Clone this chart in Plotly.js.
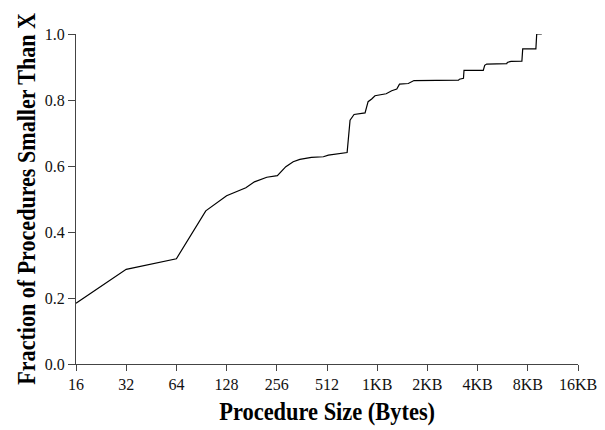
<!DOCTYPE html>
<html>
<head>
<meta charset="utf-8">
<script src="https://cdn.plot.ly/plotly-3.0.1.min.js"></script>
<style>
html,body{margin:0;padding:0;background:#fff;}
#chart{width:605px;height:430px;}
</style>
</head>
<body>
<div id="chart"></div>
<script>
// Procedure size (bytes) and cumulative fraction of procedures smaller than that size
var sizes = [16, 32, 64, 96, 128, 167, 188, 223, 258, 290, 321, 352, 413, 487, 522, 676, 704, 744, 866, 903, 949, 993, 1159, 1251, 1342, 1393, 1573, 1649, 1702, 3150, 3188, 3370, 3395, 4430, 4517, 4643, 6130, 6173, 6500, 7550, 7636, 9160, 9264, 9940];
var fractions = [0.184, 0.287, 0.319, 0.464, 0.510, 0.534, 0.552, 0.566, 0.571, 0.598, 0.613, 0.620, 0.626, 0.628, 0.633, 0.641, 0.739, 0.756, 0.761, 0.795, 0.803, 0.813, 0.819, 0.828, 0.833, 0.848, 0.850, 0.856, 0.859, 0.860, 0.863, 0.866, 0.890, 0.890, 0.905, 0.909, 0.910, 0.914, 0.917, 0.918, 0.955, 0.955, 1.0, 1.0];

var tickValues = [16, 32, 64, 128, 256, 512, 1024, 2048, 4096, 8192, 16384];
var tickLabels = ["16", "32", "64", "128", "256", "512", "1KB", "2KB", "4KB", "8KB", "16KB"];
var yTickValues = [0, 0.2, 0.4, 0.6, 0.8, 1.0];
var yTickLabels = ["0.0", "0.2", "0.4", "0.6", "0.8", "1.0"];

var xTitle = "Procedure Size (Bytes)";
var yTitle = "Fraction of Procedures Smaller Than X";

var serif = "'Liberation Serif', 'Times New Roman', Times, serif";

var trace = {
  x: sizes,
  y: fractions,
  type: "scatter",
  mode: "lines",
  line: {color: "#000", width: 1.2},
  hoverinfo: "x+y"
};

var titleFont = {family: serif, size: 26, color: "#000", weight: "bold"};

var layout = {
  width: 605,
  height: 430,
  margin: {l: 76, r: 27, t: 34, b: 66},
  paper_bgcolor: "#fff",
  plot_bgcolor: "#fff",
  showlegend: false,
  font: {family: serif, size: 16, color: "#111"},
  xaxis: {
    type: "log",
    range: [Math.log10(16), Math.log10(16384)],
    tickmode: "array",
    tickvals: tickValues,
    ticktext: tickLabels,
    ticks: "outside",
    ticklen: 6,
    tickcolor: "#444",
    tickwidth: 1,
    showline: true,
    linecolor: "#444",
    linewidth: 1,
    showgrid: false,
    zeroline: false,
    tickfont: {family: serif, size: 16, color: "#111"}
  },
  yaxis: {
    range: [0, 1],
    tickmode: "array",
    tickvals: yTickValues,
    ticktext: yTickLabels,
    ticks: "outside",
    ticklen: 7,
    tickcolor: "#444",
    tickwidth: 1,
    showline: true,
    linecolor: "#444",
    linewidth: 1,
    showgrid: false,
    zeroline: false,
    tickfont: {family: serif, size: 16, color: "#111"}
  },
  annotations: [
    {text: xTitle, xref: "paper", yref: "paper", x: 0.5, y: -0.145, xanchor: "center", yanchor: "middle",
     showarrow: false, font: titleFont},
    {text: yTitle, xref: "paper", yref: "paper", x: -0.1, y: 0.5, xanchor: "center", yanchor: "middle",
     textangle: -90, showarrow: false, font: titleFont}
  ]
};

Plotly.newPlot("chart", [trace], layout, {staticPlot: true, displayModeBar: false}).then(function (gd) {
  // the reference uses a narrow (condensed) bold serif; squeeze each title along its own direction
  var lengths = {};
  lengths[xTitle] = 216;
  lengths[yTitle] = 372;
  gd.querySelectorAll(".annotation-text").forEach(function (t) {
    var L = lengths[t.textContent];
    if (!L) return;
    var bb = t.getBBox();
    var s = L / bb.width;
    var cx = bb.x + bb.width / 2;
    var cy = bb.y + bb.height / 2;
    t.setAttribute("transform", "translate(" + cx + "," + cy + ") scale(" + s + ",1) translate(" + (-cx) + "," + (-cy) + ")");
  });
});
</script>
</body>
</html>
